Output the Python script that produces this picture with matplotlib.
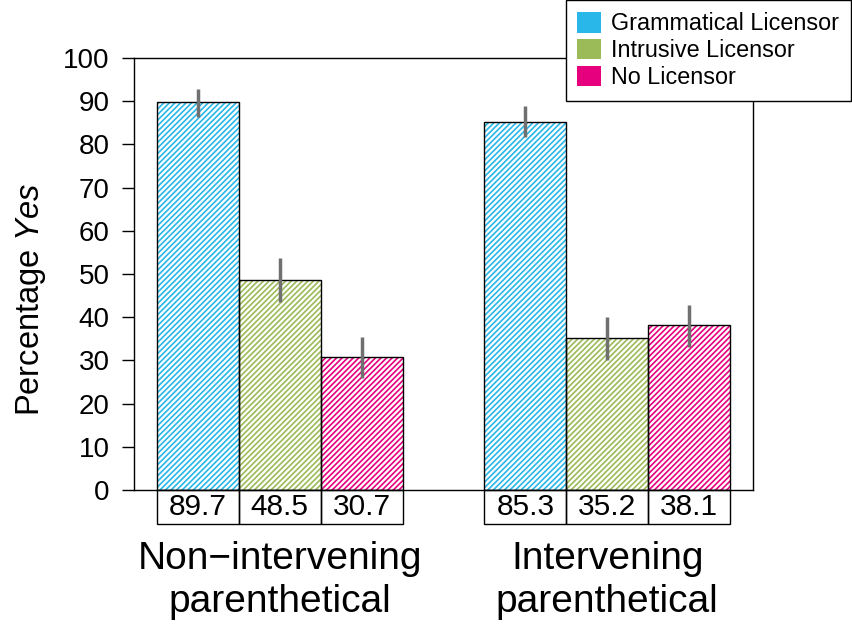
import matplotlib
matplotlib.use("Agg")
import matplotlib.pyplot as plt
from matplotlib.patches import Patch, Rectangle
import numpy as np

plt.rcParams['font.family'] = ['Liberation Sans', 'DejaVu Sans']
plt.rcParams['mathtext.fontset'] = 'custom'
plt.rcParams['mathtext.rm'] = 'Liberation Sans'
plt.rcParams['mathtext.it'] = 'Liberation Sans:italic'
plt.rcParams['hatch.linewidth'] = 1.2

groups = ["Non\u2212intervening\nparenthetical", "Intervening\nparenthetical"]
conditions = ["Grammatical Licensor", "Intrusive Licensor", "No Licensor"]
colors = ["#29B6E8", "#9BBB59", "#E6007E"]
values = [[89.7, 48.5, 30.7], [85.3, 35.2, 38.1]]
err_low = [[86.4, 43.5, 25.9], [81.7, 30.2, 33.2]]
err_high = [[92.8, 53.7, 35.5], [88.9, 40.0, 42.8]]
yticks = list(range(0, 101, 10))

fig = plt.figure(figsize=(8.52, 6.24), dpi=100)
ax = fig.add_axes([134/852, (624-490)/624, 619/852, 432/624])

for g in range(2):
    for c in range(3):
        x0 = g * 4 + c
        v = values[g][c]
        ax.bar(x0 + 0.5, v, width=1.0, color="white", edgecolor=colors[c],
               hatch="//////", linewidth=0, zorder=2)
        ax.bar(x0 + 0.5, v, width=1.0, fill=False, edgecolor="black",
               linewidth=1.0, zorder=3)
        ax.vlines(x0 + 0.5, err_low[g][c], err_high[g][c], color="#707070",
                  linewidth=2.5, zorder=4)
        # table cell
        ax.add_patch(Rectangle((x0, -7.9), 1.0, 7.9, fill=False, edgecolor="black",
                               linewidth=1.0, clip_on=False, zorder=3))
        ax.text(x0 + 0.5, -3.95, f"{v:.1f}", ha="center", va="center",
                fontsize=21.5, clip_on=False)

ax.set_xlim(-0.28, 7.28)
ax.set_ylim(0, 100)
ax.set_xticks([])
ax.set_yticks(yticks)
ax.set_yticklabels([str(t) for t in yticks], fontsize=20)
ax.tick_params(axis='y', length=8.6, width=1.0, pad=9)
for s in ax.spines.values():
    s.set_linewidth(1.0)

fig.text(31/852, 1 - 299/624, "Percentage $\\it{Yes}$", rotation=90,
         ha="center", va="center", fontsize=23.5)

for g, lab in enumerate(groups):
    l1, l2 = lab.split("\n")
    xc = (134 + (g * 4 + 1.5 + 0.28) * 619 / 7.56) / 852
    fig.text(xc, 1 - 569/624, l1, ha="center", va="baseline", fontsize=28)
    fig.text(xc, 1 - 612/624, l2, ha="center", va="baseline", fontsize=28)

handles = [Patch(facecolor=col, edgecolor='none') for col in colors]
leg = fig.legend(handles, conditions, loc="upper right", bbox_to_anchor=(851/852, 1.0),
                 borderaxespad=0, fontsize=16.8, frameon=True, fancybox=False,
                 edgecolor="black", framealpha=1, handlelength=1.0, handleheight=1.0,
                 handletextpad=0.45, labelspacing=0.15, borderpad=0.5)
leg.get_frame().set_linewidth(1.0)

fig.savefig("out.png", dpi=100)
